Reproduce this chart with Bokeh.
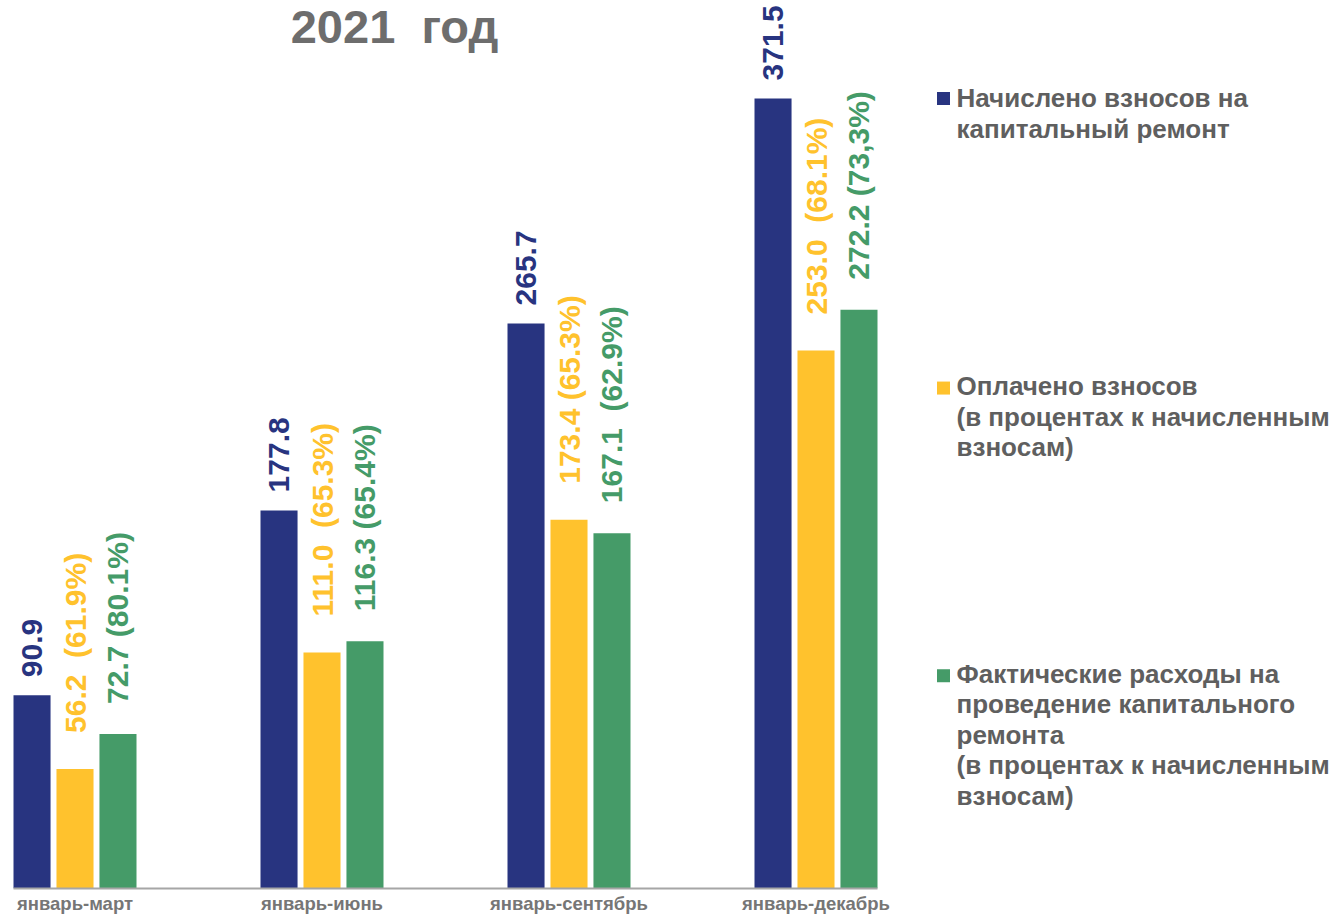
import math
from bokeh.plotting import figure
from bokeh.models import ColumnDataSource, Range1d, FixedTicker, LinearAxis
from bokeh.embed import file_html
from bokeh.resources import INLINE
from bokeh.core.properties import value

# ---------------- data ----------------
periods = ["январь-март", "январь-июнь", "январь-сентябрь", "январь-декабрь"]
accrued = [90.9, 177.8, 265.7, 371.5]
paid = [56.2, 111.0, 173.4, 253.0]
spent = [72.7, 116.3, 167.1, 272.2]
accrued_labels = ["90.9", "177.8", "265.7", "371.5"]
paid_labels = ["56.2\u00a0\u00a0(61.9%)", "111.0\u00a0\u00a0(65.3%)", "173.4 (65.3%)", "253.0\u00a0\u00a0(68.1%)"]
spent_labels = ["72.7 (80.1%)", "116.3 (65.4%)", "167.1\u00a0\u00a0(62.9%)", "272.2 (73,3%)"]
series_names = [
    ["Начислено взносов на", "капитальный ремонт"],
    ["Оплачено взносов", "(в процентах к начисленным", "взносам)"],
    ["Фактические расходы на", "проведение капитального", "ремонта",
     "(в процентах к начисленным", "взносам)"],
]
title_text = "2021\u00a0\u00a0год"

# ---------------- style ----------------
FONT = "Liberation Sans"
colors = ["#283480", "#FFC22D", "#459B68"]
bar_offsets = [-0.174, 0.0, 0.174]
bar_width = 0.15
label_gaps = [18, 36, 30]

W, H = 1336, 916
# pixel helpers (figure pixel -> data) for annotations
GX0, GSTEP = 74.5, 247.0
BASE, SCALE = 889.0, 2.129


def xd(px):
    return (px - GX0) / GSTEP


def yd(py):
    return (BASE - py) / SCALE


p = figure(width=W, height=H,
           x_range=Range1d(xd(0), xd(W)), y_range=Range1d(0, yd(0)),
           output_backend="svg", toolbar_location=None,
           x_axis_location=None, y_axis_location=None,
           min_border_left=0, min_border_right=0, min_border_top=0,
           min_border_bottom=int(H - BASE))
p.outline_line_color = None
p.background_fill_color = "white"
p.border_fill_color = "white"
for g in p.grid:
    g.visible = False

ax = LinearAxis(ticker=FixedTicker(ticks=list(range(len(periods)))),
                major_label_overrides={i: s for i, s in enumerate(periods)},
                bounds=(bar_offsets[0] - bar_width / 2,
                        len(periods) - 1 + bar_offsets[-1] + bar_width / 2))
ax.axis_line_color = "#a6a6a6"
ax.axis_line_width = 2
ax.major_tick_line_color = None
ax.minor_tick_line_color = None
ax.major_tick_out = 0
ax.major_tick_in = 0
ax.major_label_standoff = 4
ax.major_label_text_font = FONT
ax.major_label_text_font_size = "18.5px"
ax.major_label_text_font_style = "bold"
ax.major_label_text_color = "#767676"
p.add_layout(ax, "below")

series = [(accrued, accrued_labels), (paid, paid_labels), (spent, spent_labels)]
for k, (vals, labs) in enumerate(series):
    src = ColumnDataSource(dict(x=[i + bar_offsets[k] for i in range(len(vals))],
                                top=vals, label=labs))
    p.vbar(x="x", top="top", bottom=0, width=bar_width, source=src,
           fill_color=colors[k], line_color=None)
    p.text(x="x", y="top", text="label", source=src, angle=math.pi / 2,
           text_align="left", text_baseline="middle", y_offset=-label_gaps[k],
           text_font=value(FONT), text_font_style="bold",
           text_font_size="30px", text_color=colors[k])

# title (baseline compensation for svg text placement)
p.text(x=[xd(394)], y=[yd(43 - 17)], text=[title_text], text_align="center",
       text_baseline="alphabetic", text_font=value(FONT),
       text_font_style="bold", text_font_size="47px", text_color="#6d6d6d")

# legend (manual, to match layout)
sq_y = [98, 388, 676]
first_base = [107, 395, 683]
LINE = 30.5
for k, lines in enumerate(series_names):
    p.scatter(x=[xd(943)], y=[yd(sq_y[k])], marker="square", size=13,
              fill_color=colors[k], line_color=None)
    p.text(x=[xd(956)] * len(lines),
           y=[yd(first_base[k] - 9 + j * LINE) for j in range(len(lines))],
           text=lines, text_align="left", text_baseline="alphabetic",
           text_font=value(FONT), text_font_style="bold",
           text_font_size="26px", text_color="#5f5f5f")

open("out.html", "w").write(file_html(p, INLINE))
